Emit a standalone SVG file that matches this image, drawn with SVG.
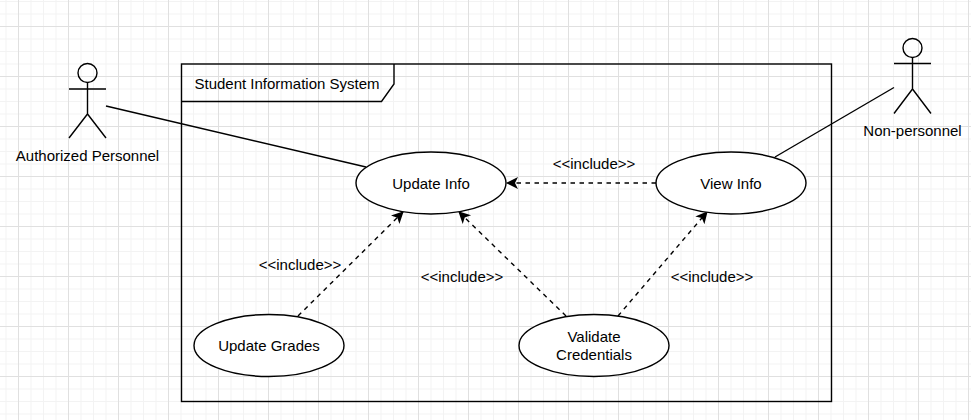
<svg xmlns="http://www.w3.org/2000/svg" width="971" height="420" viewBox="0 0 971 420">
<style>
text{font-family:"Liberation Sans",Arial,sans-serif;font-size:15px;fill:#000;text-anchor:middle}
.s{fill:none;stroke:#000;stroke-width:1.4}
.e{fill:#fff;stroke:#000;stroke-width:1.4}
.d{fill:none;stroke:#000;stroke-width:1.4;stroke-dasharray:4.5 4.5;marker-end:url(#a)}
</style>
<defs>
<pattern id="m" width="12.500" height="12.500" patternUnits="userSpaceOnUse" x="18" y="26"><path d="M.5 0V12.500M0 .5H12.500" fill="none" stroke="#f3f3f3" stroke-width="1"/></pattern>
<pattern id="g" width="50" height="50" patternUnits="userSpaceOnUse" x="18" y="26"><path d="M.5 0V50M0 .5H50" fill="none" stroke="#e0e0e0" stroke-width="1"/></pattern>
<marker id="a" markerUnits="userSpaceOnUse" markerWidth="14" markerHeight="14" refX="11" refY="6" orient="auto"><path d="M0 0L12 6L0 12L3 6Z" fill="#000"/></marker>
</defs>
<rect width="971" height="420" fill="#fff"/>
<rect width="971" height="420" fill="url(#m)"/>
<rect width="971" height="420" fill="url(#g)"/>
<g id="frame"><rect x="181.500" y="64" width="650" height="337.500" fill="none" stroke="#000" stroke-width="1.400"/><path class="s" d="M181.500 101.500H381.500L394 84V64"/><text x="287" y="89">Student Information System</text></g>
<g id="connectors">
<path class="s" d="M106 106L366 167"/>
<path class="s" d="M894 87.500L775 157"/>
<path class="d" d="M656 183H507"/>
<path class="d" d="M298 316L403 212"/>
<path class="d" d="M566 316L459 212"/>
<path class="d" d="M618 316L707 212"/>
</g>
<g id="actor-authorized"><circle class="s" cx="87.500" cy="73" r="9.500"/><path class="s" d="M87.500 82.500V114M69 89H106M69 138L87.500 114L106 138"/><text x="87.500" y="161">Authorized Personnel</text></g>
<g id="actor-non"><circle class="s" cx="912.500" cy="48" r="9.500"/><path class="s" d="M912.500 57.500V89M894 63.500H931M894 113.500L912.500 89L931 113.500"/><text x="912.500" y="136">Non-personnel</text></g>
<g id="update-info"><ellipse class="e" cx="431" cy="183" rx="75" ry="31"/><text x="431" y="188.500">Update Info</text></g>
<g id="view-info"><ellipse class="e" cx="731" cy="183" rx="75" ry="31"/><text x="731" y="188.500">View Info</text></g>
<g id="update-grades"><ellipse class="e" cx="269" cy="345.500" rx="75" ry="31"/><text x="269" y="351">Update Grades</text></g>
<g id="validate"><ellipse class="e" cx="594" cy="345.500" rx="75" ry="31"/><text x="594" y="342">Validate</text><text x="594" y="360">Credentials</text></g>
<g id="labels">
<text x="594" y="169">&lt;&lt;include&gt;&gt;</text>
<text x="300" y="270">&lt;&lt;include&gt;&gt;</text>
<text x="462" y="282">&lt;&lt;include&gt;&gt;</text>
<text x="712" y="282">&lt;&lt;include&gt;&gt;</text>
</g>
</svg>
